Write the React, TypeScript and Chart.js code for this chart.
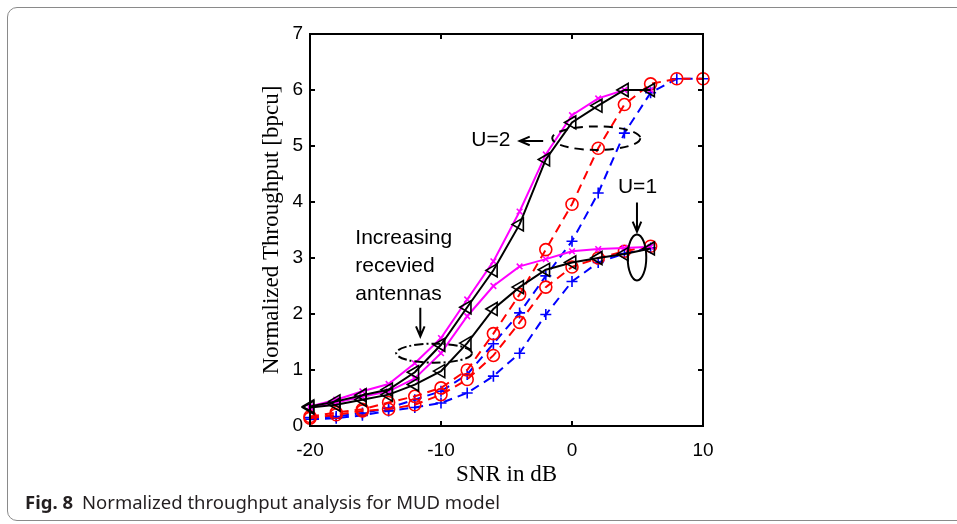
import React, { useEffect, useRef } from "react";
import { Chart, registerables } from "chart.js";

Chart.register(...registerables);

// SNR values in dB
const snr = [-20, -18, -16, -14, -12, -10, -8, -6, -4, -2, 0, 2, 4, 6, 8, 10];

// U = 2 curves
const u2Magenta = [0.35, 0.47, 0.62, 0.75, 1.12, 1.57, 2.26, 2.94, 3.83, 4.85, 5.55, 5.85, 6.0, 6.0];
const u2Black = [0.35, 0.44, 0.55, 0.65, 0.96, 1.45, 2.12, 2.78, 3.6, 4.76, 5.42, 5.72, 6.0, 6.0];
const u2Red = [0.17, 0.24, 0.3, 0.42, 0.53, 0.68, 1.0, 1.65, 2.35, 3.15, 3.96, 4.96, 5.74, 6.11, 6.2, 6.2];
const u2Blue = [0.15, 0.17, 0.23, 0.32, 0.47, 0.62, 0.92, 1.47, 2.02, 2.68, 3.3, 4.16, 5.23, 5.95, 6.2, 6.2];

// U = 1 curves
const u1Magenta = [0.33, 0.42, 0.52, 0.62, 0.85, 1.3, 1.96, 2.5, 2.85, 2.98, 3.12, 3.16, 3.18, 3.2];
const u1Black = [0.33, 0.38, 0.47, 0.56, 0.74, 0.98, 1.48, 2.09, 2.48, 2.79, 2.92, 3.0, 3.07, 3.17];
const u1Red = [0.14, 0.2, 0.27, 0.3, 0.38, 0.56, 0.83, 1.26, 1.85, 2.48, 2.84, 3.0, 3.12, 3.21];
const u1Blue = [0.12, 0.14, 0.19, 0.27, 0.33, 0.41, 0.59, 0.89, 1.3, 1.99, 2.58, 2.92, 3.08, 3.18];

const xTickValues = [-20, -10, 0, 10];
const yTickValues = [0, 1, 2, 3, 4, 5, 6, 7];

const xTitle = "SNR in dB";
const yTitle = "Normalized Throughput [bpcu]";
const captionBold = "Fig. 8";
const captionText = "Normalized throughput analysis for MUD model";

// annotations (in data coordinates)
const ellipses = [
  { cx: 1.85, cy: 5.14, rx: 3.36, ry: 0.21, dash: [9, 6] },
  { cx: 4.96, cy: 3.01, rx: 0.71, ry: 0.41, dash: [] as number[] },
  { cx: -10.53, cy: 1.3, rx: 2.89, ry: 0.17, dash: [9, 3, 2, 3] },
];
const arrows = [
  { x1: -2.2, y1: 5.09, x2: -4.0, y2: 5.09 },
  { x1: 4.96, y1: 3.99, x2: 4.96, y2: 3.47 },
  { x1: -11.58, y1: 2.11, x2: -11.58, y2: 1.6 },
];
const labels = [
  { text: "U=2", x: -6.2, y: 5.11, align: "center" },
  { text: "U=1", x: 5.0, y: 4.27, align: "center" },
  { text: "Increasing", x: -16.54, y: 3.36, align: "left" },
  { text: "recevied", x: -16.54, y: 2.86, align: "left" },
  { text: "antennas", x: -16.54, y: 2.36, align: "left" },
];

const toPts = (vals: number[]) => vals.map((v, i) => ({ x: snr[i], y: v }));

const overlayPlugin = {
  id: "overlay",
  afterDatasetsDraw(chart: any) {
    const { ctx, chartArea: a } = chart;
    const xs = chart.scales.x;
    const ys = chart.scales.y;
    const px = (v: number) => xs.getPixelForValue(v);
    const py = (v: number) => ys.getPixelForValue(v);
    ctx.save();
    ctx.strokeStyle = "#000";
    ctx.lineWidth = 2;
    ctx.setLineDash([]);
    ctx.strokeRect(a.left, a.top, a.right - a.left, a.bottom - a.top);
    const tl = 5;
    ctx.beginPath();
    ys.ticks.forEach((t: any) => {
      const yy = py(t.value);
      ctx.moveTo(a.left, yy);
      ctx.lineTo(a.left + tl, yy);
      ctx.moveTo(a.right, yy);
      ctx.lineTo(a.right - tl, yy);
    });
    xs.ticks.forEach((t: any) => {
      const xx = px(t.value);
      ctx.moveTo(xx, a.bottom);
      ctx.lineTo(xx, a.bottom - tl);
      ctx.moveTo(xx, a.top);
      ctx.lineTo(xx, a.top + tl);
    });
    ctx.stroke();

    // ellipses
    ellipses.forEach((e) => {
      const cx = px(e.cx);
      const cy = py(e.cy);
      const rx = Math.abs(px(e.cx + e.rx) - cx);
      const ry = Math.abs(py(e.cy + e.ry) - cy);
      ctx.beginPath();
      ctx.setLineDash(e.dash);
      ctx.lineWidth = 2;
      ctx.ellipse(cx, cy, rx, ry, 0, 0, Math.PI * 2);
      ctx.stroke();
    });
    ctx.setLineDash([]);

    // arrows
    arrows.forEach((ar) => {
      const x1 = px(ar.x1), y1 = py(ar.y1), x2 = px(ar.x2), y2 = py(ar.y2);
      ctx.beginPath();
      ctx.lineWidth = 2;
      ctx.moveTo(x1, y1);
      ctx.lineTo(x2, y2);
      const ang = Math.atan2(y2 - y1, x2 - x1);
      const hl = 11;
      const spread = 0.4;
      ctx.moveTo(x2 - hl * Math.cos(ang - spread), y2 - hl * Math.sin(ang - spread));
      ctx.lineTo(x2, y2);
      ctx.lineTo(x2 - hl * Math.cos(ang + spread), y2 - hl * Math.sin(ang + spread));
      ctx.stroke();
    });

    // labels
    ctx.fillStyle = "#000";
    ctx.font = '21px "Liberation Sans", Arial, sans-serif';
    ctx.textBaseline = "middle";
    labels.forEach((l) => {
      ctx.textAlign = l.align as CanvasTextAlign;
      ctx.fillText(l.text, px(l.x), py(l.y));
    });
    ctx.restore();
  },
};

export default function App() {
  const ref = useRef<HTMLCanvasElement | null>(null);

  useEffect(() => {
    if (!ref.current) return;
    const solid = (data: number[], color: string, style: string, radius: number, rot = 0) => ({
      data: toPts(data),
      borderColor: color,
      backgroundColor: "rgba(0,0,0,0)",
      borderWidth: 2,
      pointStyle: style,
      pointRadius: radius,
      pointRotation: rot,
      pointBorderColor: color,
      pointBackgroundColor: "rgba(0,0,0,0)",
      pointBorderWidth: 1.6,
      tension: 0,
      fill: false,
      clip: false,
    });
    const dashed = (data: number[], color: string, style: string, radius: number) => ({
      ...solid(data, color, style, radius),
      borderDash: [9, 6],
    });
    const chart = new Chart(ref.current, {
      type: "line",
      data: {
        datasets: [
          solid(u2Black, "#000000", "triangle", 7.5, -90),
          solid(u1Black, "#000000", "triangle", 7.5, -90),
          solid(u2Magenta, "#ff00ff", "crossRot", 4),
          solid(u1Magenta, "#ff00ff", "crossRot", 4),
          dashed(u2Red, "#ff0000", "circle", 6),
          dashed(u1Red, "#ff0000", "circle", 6),
          dashed(u2Blue, "#0000ff", "cross", 5.5),
          dashed(u1Blue, "#0000ff", "cross", 5.5),
        ] as any,
      },
      options: {
        animation: false,
        responsive: false,
        maintainAspectRatio: false,
        layout: { padding: { left: 258, right: 254, top: 34, bottom: 35 } },
        plugins: { legend: { display: false }, tooltip: { enabled: false } },
        scales: {
          x: {
            type: "linear",
            min: -20,
            max: 10,
            afterBuildTicks: (s: any) => {
              s.ticks = xTickValues.map((v) => ({ value: v }));
            },
            afterFit: (s: any) => {
              s.height = 63;
            },
            grid: { display: false, drawTicks: false },
            border: { display: false },
            ticks: {
              color: "#000",
              padding: 13,
              maxRotation: 0,
              font: { family: '"Liberation Sans", Arial, sans-serif', size: 19 },
            },
            title: {
              display: true,
              text: xTitle,
              color: "#000",
              padding: { top: 0, bottom: 0 },
              font: { family: '"Liberation Serif", "Times New Roman", serif', size: 23 },
            },
          },
          y: {
            type: "linear",
            min: 0,
            max: 7,
            afterBuildTicks: (s: any) => {
              s.ticks = yTickValues.map((v) => ({ value: v }));
            },
            afterFit: (s: any) => {
              s.width = 52;
            },
            grid: { display: false, drawTicks: false },
            border: { display: false },
            ticks: {
              color: "#000",
              padding: 7,
              font: { family: '"Liberation Sans", Arial, sans-serif', size: 19 },
            },
            title: {
              display: true,
              text: yTitle,
              color: "#000",
              padding: { top: 0, bottom: 0 },
              font: { family: '"Liberation Serif", "Times New Roman", serif', size: 23 },
            },
          },
        },
      } as any,
      plugins: [overlayPlugin],
    });
    return () => chart.destroy();
  }, []);

  return (
    <div style={{ position: "absolute", left: 0, top: 0, width: 957, height: 524, background: "#fff", overflow: "hidden" }}>
      <div
        style={{
          position: "absolute",
          left: 7,
          top: 7,
          width: 1000,
          height: 514,
          border: "1px solid #8a8a8a",
          borderRadius: 10,
          boxSizing: "border-box",
        }}
      />
      <canvas ref={ref} width={957} height={524} style={{ position: "absolute", left: 0, top: 0, width: 957, height: 524 }} />
      <div
        style={{
          position: "absolute",
          left: 25,
          top: 489,
          fontFamily: '"Noto Sans", "Open Sans", sans-serif',
          fontSize: 18.5,
          lineHeight: "26px",
          color: "#231f20",
          whiteSpace: "nowrap",
        }}
      >
        <span style={{ fontWeight: 700 }}>{captionBold}</span>
        <span style={{ marginLeft: 9 }}>{captionText}</span>
      </div>
    </div>
  );
}
